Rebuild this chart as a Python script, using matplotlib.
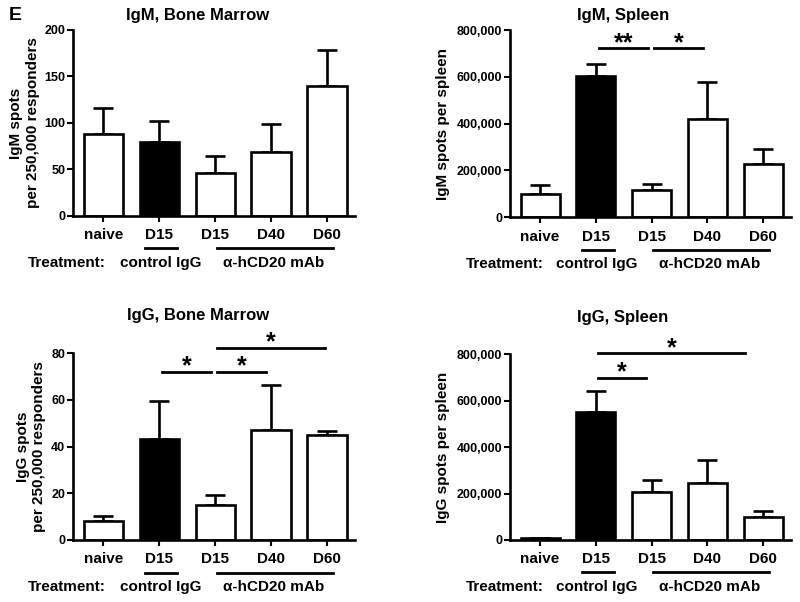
import matplotlib
matplotlib.use("Agg")
import matplotlib.pyplot as plt
from matplotlib.ticker import FuncFormatter

plt.rcParams["font.family"] = ["Liberation Sans", "DejaVu Sans"]
plt.rcParams["font.weight"] = "bold"

groups = ["naive", "D15", "D15", "D40", "D60"]
fills = ["white", "black", "white", "white", "white"]

igm_bm = [88, 80, 46, 69, 140]
igm_bm_err = [28, 22, 18, 30, 38]
igm_sp = [100000, 605000, 115000, 418000, 228000]
igm_sp_err = [37000, 50000, 25000, 160000, 62000]
igg_bm = [8, 43, 15, 47, 45]
igg_bm_err = [2.2, 16.5, 4.3, 19.5, 1.8]
igg_sp = [7000, 550000, 205000, 245000, 100000]
igg_sp_err = [2000, 92000, 53000, 100000, 26000]

# significance brackets: (from, to, height, label)
igm_sp_sig = [(1.06, 1.94, 723000, "**"), (2.04, 2.92, 723000, "*")]
igg_bm_sig = [(1.05, 1.93, 72, "*"), (2.04, 2.91, 72, "*"), (2.04, 3.96, 82.3, "*")]
igg_sp_sig = [(1.04, 1.90, 699000, "*"), (1.04, 3.68, 804000, "*")]

LW = 1.9


def panel(ax, vals, errs, ymax, yticks, title, title_xy, ylabel, ylabel_x, sig=(), big=False):
    x = range(len(vals))
    ax.bar(x, vals, width=0.7, color=fills, edgecolor="black", linewidth=LW, zorder=2)
    ax.errorbar(x, vals, yerr=[[0] * len(errs), errs], fmt="none", ecolor="black",
                elinewidth=LW, capsize=7.5, capthick=LW, zorder=1)
    ax.set_xlim(-0.54, 4.5)
    ax.set_ylim(0, ymax)
    ax.set_yticks(yticks)
    if big:
        ax.yaxis.set_major_formatter(FuncFormatter(lambda v, p: f"{int(v):,}"))
    ax.set_xticks(list(x))
    ax.set_xticklabels(groups, fontsize=11)
    ax.tick_params(axis="y", labelsize=9, length=4.5, width=1.5, pad=1)
    ax.tick_params(axis="x", length=4.5, width=1.5, pad=4.5)
    for s in ["top", "right"]:
        ax.spines[s].set_visible(False)
    for s in ["left", "bottom"]:
        ax.spines[s].set_linewidth(LW)

    ax.text(title_xy[0], title_xy[1], title, transform=ax.transAxes, fontsize=12,
            ha="center", va="center")
    ax.text(ylabel_x, 0.5, ylabel, transform=ax.transAxes, rotation=90, fontsize=11,
            ha="center", va="center", multialignment="center", linespacing=1.2)

    tr = ax.get_xaxis_transform()
    ax.plot([0.75, 1.32], [-0.174, -0.174], color="black", lw=2, transform=tr, clip_on=False)
    ax.plot([2.03, 4.1], [-0.174, -0.174], color="black", lw=2, transform=tr, clip_on=False)
    ax.text(-1.34, -0.252, "Treatment:", transform=tr, fontsize=11, ha="left", va="center")
    ax.text(1.02, -0.252, "control IgG", transform=tr, fontsize=11, ha="center", va="center")
    ax.text(3.04, -0.252, "α-hCD20 mAb", transform=tr, fontsize=11, ha="center", va="center")

    for x0, x1, h, lab in sig:
        ax.plot([x0, x1], [h, h], color="black", lw=2, clip_on=False)
        ax.annotate(lab, xy=((x0 + x1) / 2, h), xytext=(0, -1.5), textcoords="offset points",
                    ha="center", va="baseline", fontsize=18, annotation_clip=False)


fig = plt.figure(figsize=(8, 6.02), dpi=100)
ax1 = fig.add_axes([0.09125, 0.6412, 0.3525, 0.309])
ax2 = fig.add_axes([0.6375, 0.6395, 0.35125, 0.3106])
ax3 = fig.add_axes([0.09125, 0.103, 0.3525, 0.3106])
ax4 = fig.add_axes([0.6375, 0.103, 0.35125, 0.3085])

panel(ax1, igm_bm, igm_bm_err, 200, [0, 50, 100, 150, 200], "IgM, Bone Marrow",
      (0.443, 1.08), "IgM spots\nper 250,000 responders", -0.172)
panel(ax2, igm_sp, igm_sp_err, 800000, [0, 200000, 400000, 600000, 800000], "IgM, Spleen",
      (0.402, 1.08), "IgM spots per spleen", -0.238, sig=igm_sp_sig, big=True)
panel(ax3, igg_bm, igg_bm_err, 80, [0, 20, 40, 60, 80], "IgG, Bone Marrow",
      (0.443, 1.20), "IgG spots\nper 250,000 responders", -0.148, sig=igg_bm_sig)
panel(ax4, igg_sp, igg_sp_err, 800000, [0, 200000, 400000, 600000, 800000], "IgG, Spleen",
      (0.40, 1.20), "IgG spots per spleen", -0.238, sig=igg_sp_sig, big=True)

fig.text(15 / 800, 1 - 15 / 602, "E", fontsize=14, ha="center", va="center")

fig.savefig("out.png", dpi=100)
